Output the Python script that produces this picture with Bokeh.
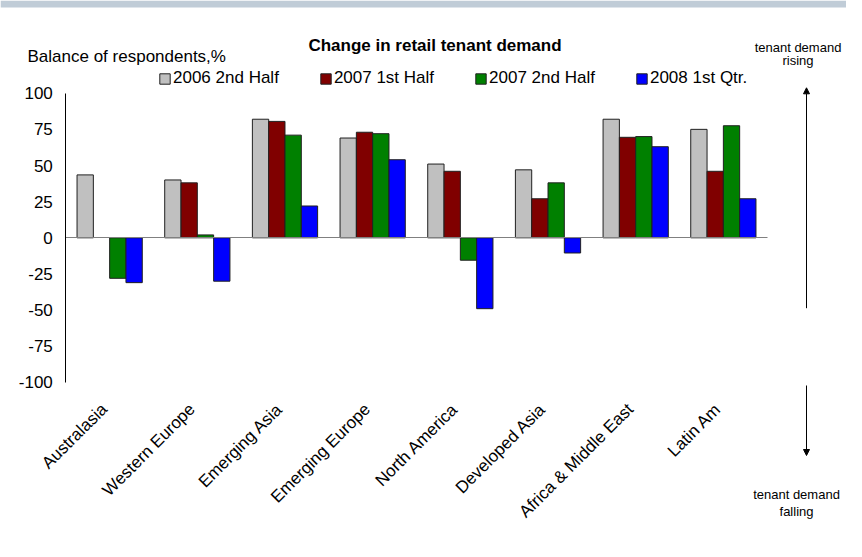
import numpy as np
from math import pi
from bokeh.plotting import figure
from bokeh.models import (ColumnDataSource, Range1d, FixedTicker, LinearAxis, BoxAnnotation,
                          Label, Arrow, NormalHead, Legend, LegendItem)
from bokeh.transform import dodge
from bokeh.embed import file_html
from bokeh.resources import INLINE

# ---- data ----
regions = ["Australasia", "Western Europe", "Emerging Asia", "Emerging Europe",
           "North America", "Developed Asia", "Africa & Middle East", "Latin Am"]
series_names = ["2006 2nd Half", "2007 1st Half", "2007 2nd Half", "2008 1st Qtr."]
h2_2006 = [43.5, 40, 82, 69, 51, 47, 82, 75]
h1_2007 = [np.nan, 38, 80.5, 73, 46, 27, 69.5, 46]
h2_2007 = [-28, 2, 71, 72, -15.5, 38, 70, 77.5]
q1_2008 = [-31, -30, 22, 54, -49, -10.5, 63, 27]
y_ticks = [-100, -75, -50, -25, 0, 25, 50, 75, 100]

title_text = "Change in retail tenant demand"
y_label_text = "Balance of respondents,%"

colors = ["#C0C0C0", "#800000", "#008000", "#0000FF"]
FONT = "Liberation Sans"
W, H = 846, 541

# category slots: region i occupies [i, i+1] on the x scale
cat_x = np.arange(len(regions)) + 0.5

src = ColumnDataSource(data=dict(
    x=cat_x,
    s0=np.array(h2_2006, dtype=float),
    s1=np.array(h1_2007, dtype=float),
    s2=np.array(h2_2007, dtype=float),
    s3=np.array(q1_2008, dtype=float),
))

p = figure(width=W, height=H,
           x_range=Range1d(-0.745, 8.9045),
           y_range=Range1d(-210.0, 164.1),
           output_backend="svg", toolbar_location=None, title=None,
           min_border_left=0, min_border_right=0, min_border_top=0, min_border_bottom=0)
p.min_border = 0
p.outline_line_color = None
p.xgrid.visible = False
p.ygrid.visible = False
p.background_fill_color = "white"
p.border_fill_color = "white"

# top band
p.add_layout(BoxAnnotation(left=0, right=W, top=H, bottom=H - 7,
                           left_units="screen", right_units="screen",
                           top_units="screen", bottom_units="screen",
                           fill_color="#C0CCD7", fill_alpha=1, line_color=None))

offsets = [-0.279, -0.093, 0.093, 0.279]
bar_w = 0.186
renderers = []
for i, (key, col) in enumerate(zip(["s0", "s1", "s2", "s3"], colors)):
    r = p.vbar(x=dodge("x", offsets[i]), top=key, bottom=0,
               width=bar_w, source=src, fill_color=col, line_color="#202020", line_width=1)
    renderers.append(r)

# y axis (value axis), crossing at the left of the category area
yax = p.yaxis[0]
yax.fixed_location = 0
yax.bounds = (-100, 100)
yax.ticker = FixedTicker(ticks=y_ticks)
yax.major_label_overrides = {t: str(t) for t in y_ticks}
yax.major_tick_out = 0
yax.major_tick_in = 0
yax.minor_tick_out = 0
yax.minor_tick_in = 0
yax.major_label_standoff = 13
yax.axis_line_color = "black"
yax.major_label_text_font = FONT
yax.major_label_text_font_size = "17px"
yax.major_label_text_color = "black"

# category axis line at zero (no labels)
xax = p.xaxis[0]
xax.fixed_location = 0
xax.bounds = (0, len(regions))
xax.ticker = FixedTicker(ticks=list(cat_x))
xax.axis_line_color = "#808080"
xax.axis_line_width = 1
xax.major_tick_line_color = None
xax.minor_tick_line_color = None
xax.major_label_text_alpha = 0
xax.major_label_text_font_size = "1px"

# category labels at the bottom (low position); rotated labels end a little left of slot centre
label_x = cat_x - 0.06
lab_ax = LinearAxis(fixed_location=-100,
                    ticker=FixedTicker(ticks=list(label_x)),
                    major_label_overrides={float(x): name for x, name in zip(label_x, regions)},
                    axis_line_color=None, major_tick_line_color=None, minor_tick_line_color=None,
                    major_tick_out=0, major_tick_in=0,
                    major_label_orientation=pi / 4, major_label_standoff=24,
                    major_label_text_font=FONT, major_label_text_font_size="17px",
                    major_label_text_color="black")
p.add_layout(lab_ax, "below")

# legend
legend = Legend(items=[LegendItem(label=n, renderers=[r]) for n, r in zip(series_names, renderers)],
                orientation="horizontal", location=(158, H - 88),
                glyph_width=13, glyph_height=13, label_standoff=2, spacing=40,
                padding=0, margin=0, border_line_color=None, background_fill_alpha=0,
                label_text_font=FONT, label_text_font_size="17px", label_height=13,
                label_text_color="black")
p.add_layout(legend)


def lab(text, x, y, size, align="left", bold=False):
    p.add_layout(Label(x=x, y=H - y, x_units="screen", y_units="screen", text=text,
                       text_font=FONT, text_font_size=size, text_align=align,
                       text_baseline="alphabetic", text_color="black",
                       text_font_style="bold" if bold else "normal"))


lab(y_label_text, 27, 56, "17px")
lab(title_text, 434.5, 45, "17px", align="center", bold=True)
lab("tenant demand", 797.5, 46.5, "13px", align="center")
lab("rising", 797.5, 60, "13px", align="center")
lab("tenant demand", 796, 494, "13px", align="center")
lab("falling", 796, 510.5, "13px", align="center")

p.add_layout(Arrow(x_start=806, y_start=H - 307.7, x_end=806, y_end=H - 87.3,
                   start_units="screen", end_units="screen",
                   line_color="black", line_width=1,
                   end=NormalHead(size=6, fill_color="black", line_color="black")))
p.add_layout(Arrow(x_start=806, y_start=H - 385, x_end=806, y_end=H - 455,
                   start_units="screen", end_units="screen",
                   line_color="black", line_width=1,
                   end=NormalHead(size=6, fill_color="black", line_color="black")))

open("out.html", "w").write(file_html(p, INLINE))
